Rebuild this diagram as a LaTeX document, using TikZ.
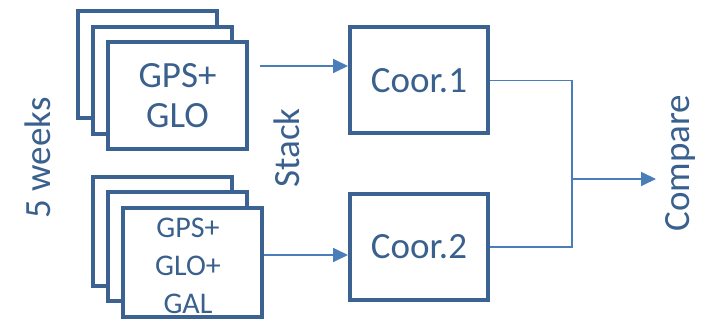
\documentclass[tikz,border=0pt]{standalone}
\usepackage{fontspec}
\setmainfont{Carlito}
\usetikzlibrary{arrows.meta}
\definecolor{boxc}{RGB}{60,98,145}
\definecolor{txtc}{RGB}{58,96,142}
\definecolor{linec}{RGB}{74,126,187}

\tikzset{
  frame/.style={draw=boxc,line width=2pt,fill=white,minimum width=69.5pt,minimum height=53.5pt,inner sep=0pt},
  coorbox/.style={draw=boxc,line width=2pt,minimum width=69pt,minimum height=53pt,inner sep=0pt,
    text=txtc,font=\fontsize{18.5}{20}\selectfont},
  link/.style={draw=linec,line width=0.9pt},
  label/.style={text=txtc,font=\fontsize{18.5}{20}\selectfont,rotate=90}
}

\begin{document}
\begin{tikzpicture}[x=0.5pt,y=-0.5pt,>={Triangle[length=7.5pt,width=7pt]}]
\useasboundingbox (0,0) rectangle (704,325);
% top stack
\node[frame] (gg3) at (147,65) {};
\node[frame] (gg2) at (162,81) {};
\node[frame,text=txtc,align=center,font=\fontsize{18.5}{20}\selectfont] (gg) at (177.5,95.5) {GPS+\\GLO};
% bottom stack
\node[frame,minimum height=54.5pt] (ggg3) at (162,231.5) {};
\node[frame,minimum height=54.5pt] (ggg2) at (177.5,246.5) {};
\node[frame,minimum height=54.5pt] (ggg) at (192.5,262.5) {};
\node[text=txtc,align=center,font=\fontsize{15}{19}\selectfont] (gggtxt) at (188,266) {GPS+\\GLO+\\GAL};
% coordinates
\node[coorbox] (coor1) at (419,80.5) {Coor.1};
\node[coorbox] (coor2) at (419,247) {Coor.2};
% labels
\node[label] (weeks) at (38,158) {5 weeks};
\node[label] (stack) at (287,148) {Stack};
\node[label] (compare) at (680,163) {Compare};
% connectors
\coordinate (s1) at (260,66);
\coordinate (j) at (572,179);
\coordinate (c) at (656,179);
\draw[link,->] (s1) -- (s1 -| coor1.west);
\draw[link,->] (ggg.east |- 0,255) -- (coor2.west |- 0,255);
\draw[link] (coor1.east) -| (j) |- (coor2.east);
\draw[link,->] (j) -- (c);
\end{tikzpicture}
\end{document}
